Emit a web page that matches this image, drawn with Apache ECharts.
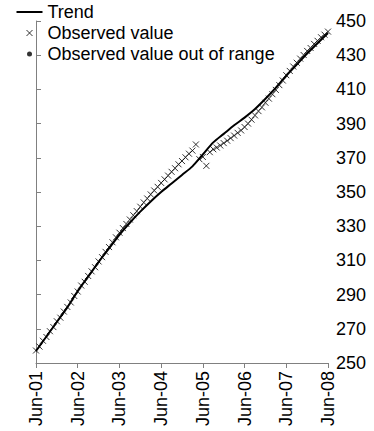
<!DOCTYPE html>
<html>
<head>
<meta charset="utf-8">
<script src="https://cdn.jsdelivr.net/npm/echarts@6/dist/echarts.min.js"></script>
<style>
  html, body { margin: 0; padding: 0; background: #fff; }
  #chart { width: 374px; height: 431px; }
</style>
</head>
<body>
<div id="chart"></div>
<script>
// Year tick labels, one every 12 months starting June 2001
const yearTicks = ['Jun-01', 'Jun-02', 'Jun-03', 'Jun-04', 'Jun-05', 'Jun-06', 'Jun-07', 'Jun-08'];

// Smoothed trend, sampled quarterly (months since Jun-01)
const trendMonths = [0, 3, 6, 9, 12, 15, 18, 21, 24, 27, 30, 33, 36, 39, 42, 45, 48,
                     51, 54, 57, 60, 63, 66, 69, 72, 75, 78, 81, 84];
const trendValues = [257, 265.5, 274, 282.5, 292, 300.5, 309, 317, 325, 332, 338.5, 344.5,
                     350, 355, 360, 365, 372, 379, 384, 389, 393.5, 398.5, 404.5,
                     411, 418, 424.5, 431, 437, 443];

// Monthly observations, Jun-01 .. Jun-08
const observedValues = [
  257.3, 259.6, 263.0, 265.2, 268.6, 271.0, 274.4, 276.5, 280.1, 282.8, 285.4, 289.2,
  291.8, 295.3, 297.5, 300.9, 303.6, 306.0, 309.4, 311.9, 315.0, 317.8, 320.6, 323.5,
  326.2, 328.9, 331.3, 333.9, 336.4, 338.8, 341.4, 343.9, 346.2, 348.6, 350.9, 353.0,
  355.3, 357.4, 359.6, 361.8, 363.9, 366.2, 368.1, 370.3, 372.4, 374.2, 377.8, 369.2,
  370.5, 365.3, 373.3, 375.0, 376.0, 377.2, 378.6, 380.0, 381.5, 383.0, 384.6, 386.0,
  388.0, 390.0, 392.3, 394.8, 397.3, 399.5, 402.2, 404.6, 407.2, 409.7, 412.5, 415.2,
  418.3, 420.8, 423.4, 425.6, 428.0, 430.1, 432.5, 434.2, 436.6, 438.4, 440.5, 442.0,
  443.8
];

// Observations flagged as out of range (none in this period)
const outOfRangeMonths = [];
const outOfRangeValues = [];

const font = "'Liberation Sans', Arial, sans-serif";
const crossSymbol = 'path://M0,0L6,6M6,0L0,6';
// Legend icons share a 26x6 box; the leading moves pin the box size
const lineIcon = 'path://M0,0M26,6M0,2L26,2L26,4L0,4Z';
const crossIcon = 'path://M0,0M26,6M10,0L16,6M16,0L10,6';
const dotIcon = 'path://M0,0M26,6M13,0.5A2.5,2.5,0,1,1,13,5.5A2.5,2.5,0,1,1,13,0.5Z';
const axisGrey = '#808080';

const chart = echarts.init(document.getElementById('chart'), null, { renderer: 'svg' });

chart.setOption({
  animation: false,
  backgroundColor: '#fff',
  textStyle: { fontFamily: font },
  grid: { left: 36, right: 46, top: 21, bottom: 68, containLabel: false },
  legend: {
    orient: 'vertical',
    left: 16, top: 3, padding: 0, itemGap: 3,
    selectedMode: false,
    itemWidth: 26, itemHeight: 6,
    textStyle: { fontSize: 18, color: '#000', fontFamily: font },
    data: [
      { name: 'Trend', icon: lineIcon,
        itemStyle: { color: '#000', borderWidth: 0 } },
      { name: 'Observed value', icon: crossIcon,
        itemStyle: { color: 'transparent', borderColor: '#000', borderWidth: 1 } },
      { name: 'Observed value out of range', icon: dotIcon,
        itemStyle: { color: '#000', borderWidth: 0 } }
    ]
  },
  xAxis: {
    type: 'value',
    min: 0, max: 84, interval: 12,
    axisLine: { show: true, lineStyle: { color: axisGrey, width: 1 } },
    axisTick: { show: true, length: 5, lineStyle: { color: axisGrey } },
    axisLabel: {
      rotate: 90, fontSize: 18, color: '#000', margin: 8, fontFamily: font,
      formatter: v => yearTicks[Math.round(v / 12)]
    },
    splitLine: { show: false }
  },
  yAxis: {
    type: 'value',
    position: 'right',
    min: 250, max: 450, interval: 20,
    axisLine: { show: true, lineStyle: { color: axisGrey, width: 1 } },
    axisTick: { show: true, length: 5, lineStyle: { color: axisGrey } },
    axisLabel: { fontSize: 18, color: '#000', margin: 8, fontFamily: font },
    splitLine: { show: false }
  },
  series: [
    {
      name: 'Trend',
      type: 'line',
      data: trendMonths.map((m, i) => [m, trendValues[i]]),
      smooth: 0.3,
      symbol: 'none',
      lineStyle: { color: '#000', width: 2 },
      itemStyle: { color: '#000' },
      z: 3
    },
    {
      name: 'Observed value',
      type: 'scatter',
      data: observedValues.map((v, i) => [i, v]),
      symbol: crossSymbol,
      symbolSize: 6,
      itemStyle: { color: 'transparent', borderColor: '#000', borderWidth: 1 },
      z: 2
    },
    {
      name: 'Observed value out of range',
      type: 'scatter',
      data: outOfRangeMonths.map((m, i) => [m, outOfRangeValues[i]]),
      symbol: 'circle',
      symbolSize: 5,
      itemStyle: { color: '#000' },
      z: 4
    }
  ]
});
</script>
</body>
</html>
